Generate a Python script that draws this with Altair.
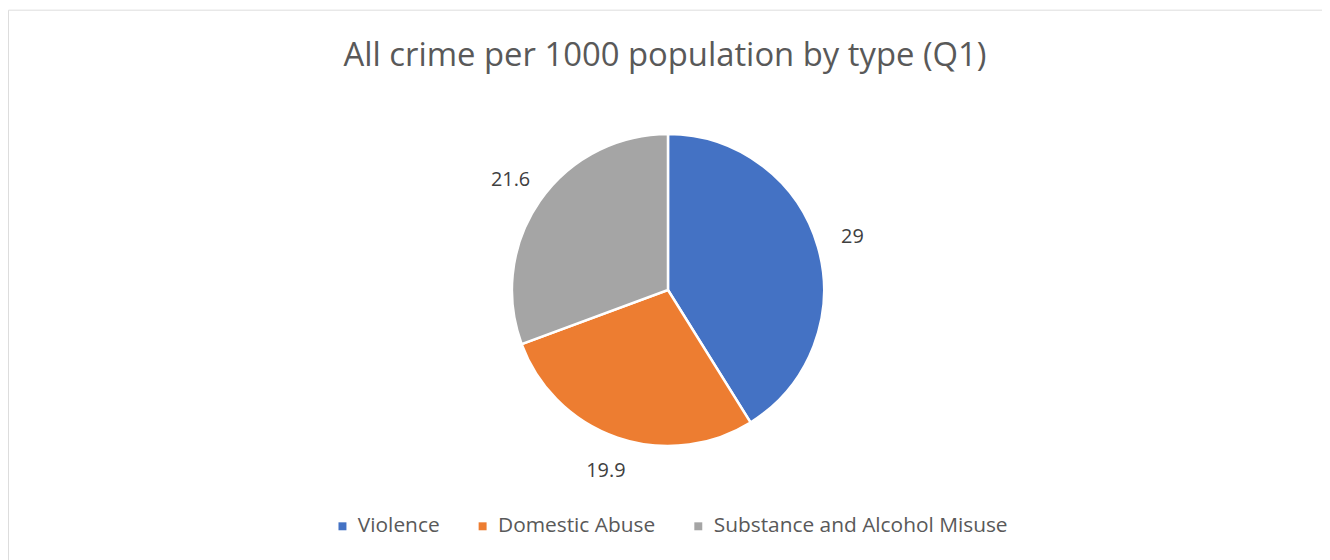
import altair as alt
import pandas as pd

categories = ["Violence", "Domestic Abuse", "Substance and Alcohol Misuse"]
values = [29, 19.9, 21.6]
labels = ["29", "19.9", "21.6"]
colors = ["#4472C4", "#ED7D31", "#A5A5A5"]

df = pd.DataFrame({"type": categories, "value": values, "label": labels, "order": list(range(len(categories)))})

W, H = 1322, 560
cx, cy = 664, 282

base = alt.Chart(df).encode(
    theta=alt.Theta("value:Q", stack=True),
    order=alt.Order("order:Q"),
)

pie = base.mark_arc(radius=157, stroke="white", strokeWidth=2.5).encode(
    x=alt.value(cx), y=alt.value(cy),
    color=alt.Color(
        "type:N",
        scale=alt.Scale(domain=categories, range=colors),
        sort=categories,
        legend=alt.Legend(
            title=None, orient="none", direction="horizontal",
            legendX=326, legendY=509,
            symbolType="square", symbolSize=64, symbolStrokeWidth=0,
            labelFontSize=21, labelColor="#595959", labelFont="Open Sans",
            labelLimit=500,
            columnPadding=32, symbolOffset=0, labelOffset=5,
        ),
    ),
)

text = base.mark_text(radius=193, fontSize=20, font="Open Sans", color="#404040").encode(
    x=alt.value(cx), y=alt.value(cy), text="label:N"
)

chart = alt.layer(pie, text).properties(
    width=W, height=H,
    autosize=alt.AutoSizeParams(type="none"),
    padding=0,
    title=alt.TitleParams(
        "All crime per 1000 population by type (Q1)",
        fontSize=33, font="Open Sans", fontWeight="normal", color="#595959",
        anchor="middle", offset=-64, orient="top",
    ),
).configure_view(stroke="#D9D9D9", strokeWidth=2).configure(background="white")

chart.save("out.html", embed_options={"renderer": "svg", "actions": False})
